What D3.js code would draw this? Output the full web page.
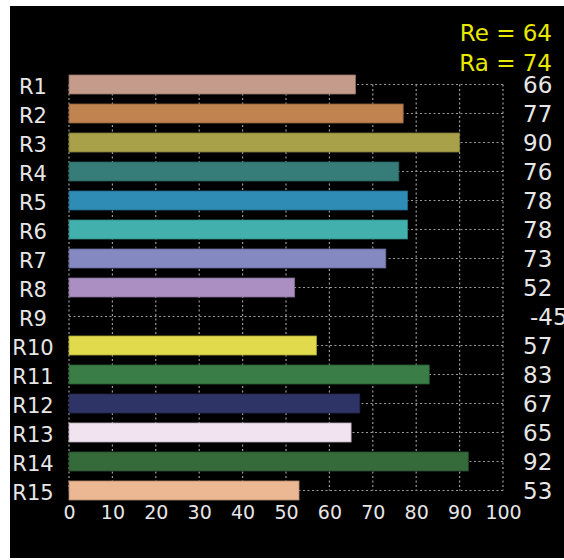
<!DOCTYPE html>
<html>
<head>
<meta charset="utf-8">
<script src="https://cdn.jsdelivr.net/npm/d3@7"></script>
<style>
  body { margin: 0; background: #fff; }
  text { font-family: "DejaVu Sans", sans-serif; }
</style>
</head>
<body>
<svg id="mainSvg" width="564" height="560"></svg>
<script>
var categories = ["R1","R2","R3","R4","R5","R6","R7","R8","R9","R10","R11","R12","R13","R14","R15"];
var values = [66, 77, 90, 76, 78, 78, 73, 52, -45, 57, 83, 67, 65, 92, 53];
var barColors = ["#c59b8b","#c1834f","#a8a14a","#367d7a","#2e8cb5","#42b1ad","#8589c2",
                 "#ab8fc3","#888888","#e1da4c","#3a7d46","#2e3466","#f1e4f0","#356b3b","#ecb893"];
var tickValues = [0,10,20,30,40,50,60,70,80,90,100];
var summaryLines = ["Re = 64", "Ra = 74"];

var svg = d3.select("#mainSvg");

// black panel
svg.append("rect")
    .attr("x", 10).attr("y", 6)
    .attr("width", 554).attr("height", 552)
    .attr("fill", "#000");

var x = d3.scaleLinear().domain([0, 100]).range([69, 503]);
var y = d3.scaleBand()
    .domain(categories)
    .range([70, 505])
    .paddingInner(0.345)
    .paddingOuter(0.1725);

var yTop = y(categories[0]) + y.bandwidth()/2,
    yBot = y(categories[categories.length-1]) + y.bandwidth()/2;

// dotted grid
var grid = svg.append("g").attr("class", "grid")
    .attr("stroke", "#9a9a9a")
    .attr("stroke-width", 1.2)
    .attr("stroke-dasharray", "2,2.5");

grid.selectAll(".hline")
    .data(categories)
    .enter().append("line")
    .attr("x1", x(0)).attr("x2", x(100))
    .attr("y1", function(d){ return y(d) + y.bandwidth()/2; })
    .attr("y2", function(d){ return y(d) + y.bandwidth()/2; });

grid.selectAll(".vline")
    .data(tickValues)
    .enter().append("line")
    .attr("x1", function(d){ return x(d); })
    .attr("x2", function(d){ return x(d); })
    .attr("y1", yTop).attr("y2", yBot);

// bars
svg.selectAll(".bar")
    .data(values)
    .enter().append("rect")
    .attr("class", "bar")
    .attr("x", x(0))
    .attr("y", function(d, i){ return y(categories[i]); })
    .attr("width", function(d){ return Math.max(0, x(d) - x(0)); })
    .attr("height", y.bandwidth())
    .attr("fill", function(d, i){ return barColors[i]; })
    .attr("stroke", function(d, i){ return d3.color(barColors[i]).darker(0.8); })
    .attr("stroke-width", 0.8)
    .style("display", function(d){ return d > 0 ? null : "none"; });

// category labels
svg.selectAll(".catLabel")
    .data(categories)
    .enter().append("text")
    .attr("class", "catLabel")
    .attr("x", 33)
    .attr("y", function(d){ return y(d) + y.bandwidth()/2 + 9.5; })
    .attr("text-anchor", "middle")
    .attr("fill", "#e6e6e6")
    .style("font-size", "21px")
    .text(function(d){ return d; });

// value labels
svg.selectAll(".valLabel")
    .data(values)
    .enter().append("text")
    .attr("class", "valLabel")
    .attr("x", function(d){ return d < 0 ? 530 : 523; })
    .attr("y", function(d, i){ return y(categories[i]) + y.bandwidth()/2 + 8.5; })
    .attr("fill", "#e6e6e6")
    .style("font-size", "23px")
    .text(function(d){ return d; });

// x axis labels
var xAxis = d3.axisBottom(x).tickValues(tickValues).tickSize(0).tickPadding(0);
var axisG = svg.append("g")
    .attr("transform", "translate(0,505)")
    .call(xAxis);
axisG.select(".domain").remove();
axisG.selectAll("text")
    .attr("dy", null)
    .attr("y", 14)
    .attr("fill", "#e6e6e6")
    .style("font-family", "DejaVu Sans, sans-serif")
    .style("font-size", "19px");

// summary text
svg.selectAll(".summary")
    .data(summaryLines)
    .enter().append("text")
    .attr("class", "summary")
    .attr("x", 552)
    .attr("y", function(d, i){ return 41 + i*30; })
    .attr("text-anchor", "end")
    .attr("fill", "#e8e800")
    .style("font-size", "23px")
    .text(function(d){ return d; });
</script>
</body>
</html>
